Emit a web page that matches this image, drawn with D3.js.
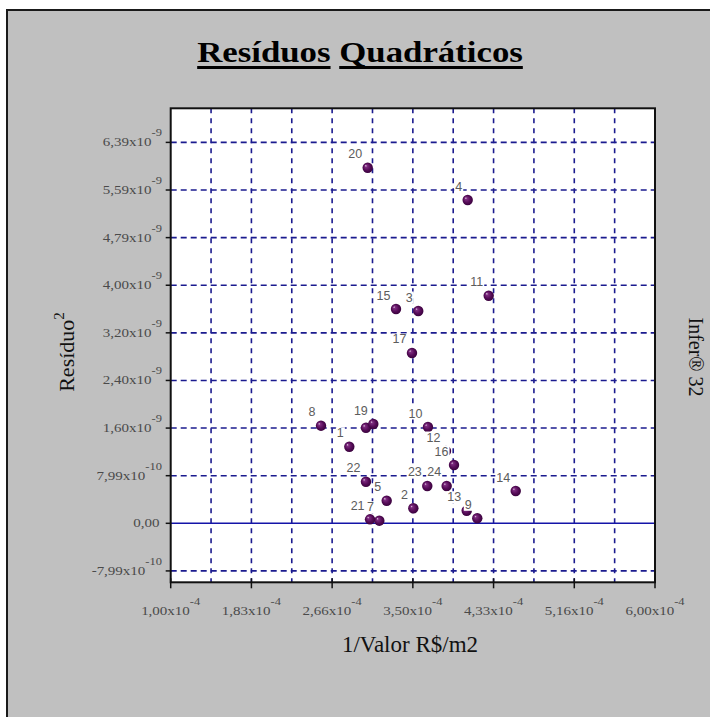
<!DOCTYPE html>
<html>
<head>
<meta charset="utf-8">
<script src="https://cdn.jsdelivr.net/npm/d3@7"></script>
<style>
  html, body { margin: 0; padding: 0; background: #ffffff; }
  svg { display: block; }
</style>
</head>
<body>
<svg id="chart" width="710" height="717"></svg>
<script>
// Observation ids, 1/price (R$/m2) and squared residuals
const pointIds = ["1","2","3","4","5","6","7","8","9","10","11","12","13","14","15","16","17","19","20","21","22","23","24"];
// Label text shown beside each point ("" = no label)
const pointLabels = ["1","2","3","4","5","","7","8","9","10","11","12","13","14","15","16","17","19","20","21","22","23","24"];
const invPrice = [2.844e-4, 3.505e-4, 3.556e-4, 4.066e-4, 3.230e-4, 3.016e-4, 3.154e-4, 2.552e-4, 4.165e-4, 3.656e-4,
                  4.283e-4, 3.842e-4, 4.056e-4, 4.562e-4, 3.326e-4, 3.925e-4, 3.491e-4, 3.092e-4, 3.034e-4, 3.058e-4,
                  3.016e-4, 3.649e-4, 3.849e-4];
const squaredResidual = [1.285e-9, 2.52e-10, 3.562e-9, 5.425e-9, 3.79e-10, 1.604e-9, 4.4e-11, 1.638e-9, 8.4e-11, 1.616e-9,
                         3.819e-9, 1.213e-9, 2.11e-10, 5.42e-10, 3.596e-9, 9.78e-10, 2.858e-9, 1.666e-9, 5.967e-9, 6.7e-11,
                         6.98e-10, 6.26e-10, 6.26e-10];

// Axis ticks
const xTickValues = [1.0e-4, 1.8333e-4, 2.6667e-4, 3.5e-4, 4.3333e-4, 5.1667e-4, 6.0e-4];
const xTickMantissa = ["1,00", "1,83", "2,66", "3,50", "4,33", "5,16", "6,00"];
const xTickExponent = ["-4", "-4", "-4", "-4", "-4", "-4", "-4"];
const yTickValues = [-7.99e-10, 0, 7.99e-10, 1.598e-9, 2.397e-9, 3.196e-9, 3.995e-9, 4.794e-9, 5.593e-9, 6.392e-9];
const yTickMantissa = ["-7,99", "0,00", "7,99", "1,60", "2,40", "3,20", "4,00", "4,79", "5,59", "6,39"];
const yTickExponent = ["-10", "", "-10", "-9", "-9", "-9", "-9", "-9", "-9", "-9"];

const xDomain = [1.0e-4, 6.0e-4];
const yDomain = [-9.9e-10, 6.964e-9];

const plot = { left: 170.7, top: 108.3, right: 655, bottom: 582.3 };
const SERIF = "'Liberation Serif', 'Times New Roman', serif";
const SANS = "'Liberation Sans', Arial, sans-serif";
const GRID = "#1b1b8f";
const TICK_SX = 1.25;

const svg = d3.select("#chart");

// Panel frame
svg.append("rect")
  .attr("x", 7).attr("y", 10).attr("width", 760).attr("height", 760)
  .attr("fill", "#c0c0c0").attr("stroke", "#1a1a1a").attr("stroke-width", 2);

const x = d3.scaleLinear().domain(xDomain).range([plot.left, plot.right]);
const y = d3.scaleLinear().domain(yDomain).range([plot.bottom, plot.top]);

// Plot area
svg.append("rect")
  .attr("x", plot.left).attr("y", plot.top)
  .attr("width", plot.right - plot.left).attr("height", plot.bottom - plot.top)
  .attr("fill", "#ffffff");

// Dashed grid: verticals at every half step of the labelled ticks
const xStep = (xDomain[1] - xDomain[0]) / 12;
const xGrid = d3.range(1, 12).map(i => xDomain[0] + i * xStep);
svg.append("g").selectAll("line").data(xGrid).join("line")
  .attr("x1", d => x(d)).attr("x2", d => x(d))
  .attr("y1", plot.top).attr("y2", plot.bottom)
  .attr("stroke", GRID).attr("stroke-width", 1.6).attr("stroke-dasharray", "5,5");

svg.append("g").selectAll("line").data(yTickValues.filter(v => v !== 0)).join("line")
  .attr("x1", plot.left).attr("x2", plot.right)
  .attr("y1", d => y(d)).attr("y2", d => y(d))
  .attr("stroke", GRID).attr("stroke-width", 1.6).attr("stroke-dasharray", "6,4");

// Zero line
svg.append("line")
  .attr("x1", plot.left).attr("x2", plot.right)
  .attr("y1", y(0)).attr("y2", y(0))
  .attr("stroke", "#1414a8").attr("stroke-width", 1.6);

// Plot border
svg.append("rect")
  .attr("x", plot.left).attr("y", plot.top)
  .attr("width", plot.right - plot.left).attr("height", plot.bottom - plot.top)
  .attr("fill", "none").attr("stroke", "#111").attr("stroke-width", 2);

// Axis tick marks
svg.append("g").selectAll("line").data(yTickValues).join("line")
  .attr("x1", plot.left - 5).attr("x2", plot.left)
  .attr("y1", d => y(d)).attr("y2", d => y(d))
  .attr("stroke", "#111").attr("stroke-width", 1.5);
svg.append("g").selectAll("line").data(xTickValues).join("line")
  .attr("x1", d => x(d)).attr("x2", d => x(d))
  .attr("y1", plot.bottom - 4).attr("y2", plot.bottom + 6)
  .attr("stroke", "#111").attr("stroke-width", 1.5);

// Tick labels in "m x 10^e" form
function sciLabel(g, mant, exp) {
  const t = g.append("text")
    .attr("font-family", SERIF).attr("font-size", 12).attr("fill", "#4a4a4a");
  t.append("tspan").text(mant + "x10");
  if (exp) {
    t.append("tspan").attr("dy", -10).attr("font-size", 10).text(exp);
  }
  return t;
}

yTickValues.forEach((v, i) => {
  const g = svg.append("g").attr("transform", `translate(162,${y(v) + 4}) scale(${TICK_SX},1)`);
  if (yTickExponent[i]) {
    sciLabel(g, yTickMantissa[i], yTickExponent[i]).attr("text-anchor", "end");
  } else {
    g.append("text").attr("x", -2).attr("text-anchor", "end")
      .attr("font-family", SERIF).attr("font-size", 12).attr("fill", "#4a4a4a")
      .text(yTickMantissa[i]);
  }
});

xTickValues.forEach((v, i) => {
  const g = svg.append("g").attr("transform", `translate(${x(v)},615) scale(${TICK_SX},1)`);
  sciLabel(g, xTickMantissa[i], xTickExponent[i]).attr("text-anchor", "middle");
});

// Title with each word underlined
const titleG = svg.append("g").attr("transform", "translate(360,62) scale(1.2,1)");
const title = titleG.append("text")
  .attr("text-anchor", "middle")
  .attr("font-family", SERIF).attr("font-size", 29).attr("font-weight", "bold").attr("fill", "#000")
  .text("Resíduos Quadráticos");
{
  const total = title.node().getComputedTextLength();
  const w1 = title.node().getSubStringLength(0, 8);
  const w2 = title.node().getSubStringLength(9, 11);
  const x0 = -total / 2;
  titleG.append("rect").attr("x", x0).attr("y", 4).attr("width", w1).attr("height", 3).attr("fill", "#000");
  titleG.append("rect").attr("x", total / 2 - w2).attr("y", 4).attr("width", w2).attr("height", 3).attr("fill", "#000");
}

// Axis titles
svg.append("text")
  .attr("x", 410).attr("y", 652)
  .attr("text-anchor", "middle")
  .attr("font-family", SERIF).attr("font-size", 23).attr("fill", "#111")
  .text("1/Valor R$/m2");

const yTitle = svg.append("text")
  .attr("transform", `translate(74,352) rotate(-90)`)
  .attr("text-anchor", "middle")
  .attr("font-family", SERIF).attr("font-size", 22).attr("fill", "#111");
yTitle.append("tspan").text("Resíduo");
yTitle.append("tspan").attr("dy", -10).attr("font-size", 15).text("2");

svg.append("text")
  .attr("transform", `translate(689,357) rotate(90)`)
  .attr("text-anchor", "middle")
  .attr("font-family", SERIF).attr("font-size", 20).attr("fill", "#111")
  .text("Infer® 32");

// Markers
const defs = svg.append("defs");
const grad = defs.append("radialGradient").attr("id", "ball")
  .attr("cx", "50%").attr("cy", "50%").attr("r", "55%").attr("fx", "30%").attr("fy", "30%");
grad.append("stop").attr("offset", "0%").attr("stop-color", "#e8d8e8");
grad.append("stop").attr("offset", "20%").attr("stop-color", "#7e2c80");
grad.append("stop").attr("offset", "60%").attr("stop-color", "#560c58");
grad.append("stop").attr("offset", "100%").attr("stop-color", "#340038");

const pts = pointIds.map((id, i) => ({ id, label: pointLabels[i], xv: invPrice[i], yv: squaredResidual[i] }));

svg.append("g").selectAll("circle").data(pts).join("circle")
  .attr("cx", d => x(d.xv)).attr("cy", d => y(d.yv)).attr("r", 5.2)
  .attr("fill", "url(#ball)");

// Point labels on white boxes, drawn in order so later boxes sit on top
const labelG = svg.append("g");
pts.filter(d => d.label).forEach(d => {
  const g = labelG.append("g");
  const t = g.append("text")
    .attr("x", x(d.xv) - 5.5).attr("y", y(d.yv) - 9.5)
    .attr("text-anchor", "end")
    .attr("font-family", SANS).attr("font-size", 12.5).attr("fill", "#5c5c5c")
    .text(d.label);
  const b = t.node().getBBox();
  g.insert("rect", "text")
    .attr("x", b.x - 1).attr("y", b.y + 1).attr("width", b.width + 2).attr("height", b.height - 2)
    .attr("fill", "#ffffff");
});
</script>
</body>
</html>
